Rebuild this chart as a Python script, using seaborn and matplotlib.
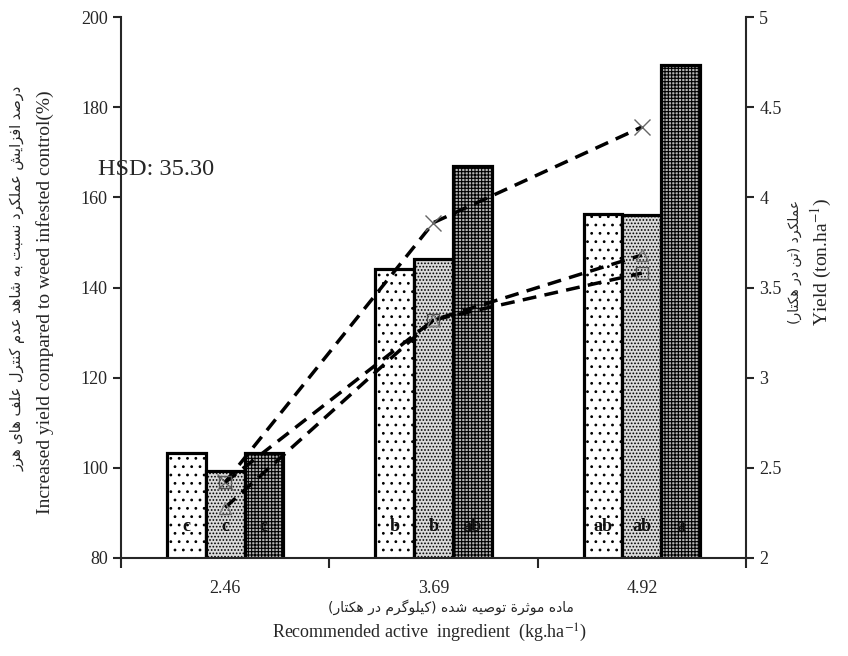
import numpy as np
import pandas as pd
import seaborn as sns
import matplotlib.pyplot as plt

# data
rates = ['2.46', '3.69', '4.92']
series = ['T1', 'T2', 'T3']
increase_t1 = [103.3, 144.2, 156.4]
increase_t2 = [99.3, 146.4, 156.0]
increase_t3 = [103.3, 166.9, 189.3]
letters_t1 = ['c', 'b', 'ab']
letters_t2 = ['c', 'b', 'ab']
letters_t3 = ['c', 'ab', 'a']
yield_x = [2.42, 3.86, 4.39]
yield_sq = [2.42, 3.32, 3.58]
yield_tri = [2.28, 3.32, 3.68]
hsd = 35.30

fa_left = 'درصد افزایش عملکرد نسبت به شاهد عدم کنترل علف های هرز'
fa_right = 'عملکرد (تن در هکتار)'
fa_x = 'ماده موثرة توصیه شده (کیلوگرم در هکتار)'

# presentation forms: 4 = dual joining (isol, fin, ini, med), 2 = right joining (isol, fin)
FORMS = {
    'ا': '\ufe8d\ufe8e', 'د': '\ufea9\ufeaa', 'ر': '\ufead\ufeae', 'ز': '\ufeaf\ufeb0',
    'و': '\ufeed\ufeee', 'ة': '\ufe93\ufe94',
    'ب': '\ufe8f\ufe90\ufe91\ufe92', 'ت': '\ufe95\ufe96\ufe97\ufe98',
    'ث': '\ufe99\ufe9a\ufe9b\ufe9c', 'س': '\ufeb1\ufeb2\ufeb3\ufeb4',
    'ش': '\ufeb5\ufeb6\ufeb7\ufeb8', 'ص': '\ufeb9\ufeba\ufebb\ufebc',
    'ع': '\ufec9\ufeca\ufecb\ufecc', 'ف': '\ufed1\ufed2\ufed3\ufed4',
    'ل': '\ufedd\ufede\ufedf\ufee0', 'م': '\ufee1\ufee2\ufee3\ufee4',
    'ن': '\ufee5\ufee6\ufee7\ufee8', 'ه': '\ufee9\ufeea\ufeeb\ufeec',
    'ی': '\ufbfc\ufbfd\ufbfe\ufbff', 'ک': '\ufb8e\ufb8f\ufb90\ufb91',
    'گ': '\ufb92\ufb93\ufb94\ufb95',
}


def shape(text):
    # crude persian shaping + right-to-left order, matplotlib does neither
    out = []
    for i, ch in enumerate(text):
        if ch not in FORMS:
            out.append(ch)
            continue
        f = FORMS[ch]
        prev = text[i - 1] if i > 0 else ''
        nxt = text[i + 1] if i + 1 < len(text) else ''
        jp = prev in FORMS and len(FORMS[prev]) == 4
        jn = len(f) == 4 and nxt in FORMS
        if jp and jn:
            out.append(f[3])
        elif jp:
            out.append(f[1])
        elif jn:
            out.append(f[2])
        else:
            out.append(f[0])
    return ''.join(out)[::-1].translate(str.maketrans('()', ')('))


sns.set_style('ticks')
plt.rcParams['font.family'] = ['Liberation Serif', 'DejaVu Sans']
plt.rcParams['mathtext.fontset'] = 'stix'
plt.rcParams['hatch.linewidth'] = 0.8

df = pd.DataFrame({
    'rate': rates * 3,
    'series': np.repeat(series, len(rates)),
    'increase': increase_t1 + increase_t2 + increase_t3,
})

fig = plt.figure(figsize=(8.48, 6.56), dpi=100)
ax = fig.add_axes([0.1427, 0.1494, 0.7370, 0.8246])

sns.barplot(data=df, x='rate', y='increase', hue='series', order=rates,
            palette=['white', '#dadada', '#b4b4b4'], saturation=1,
            width=0.557, gap=0, edgecolor='black', linewidth=2.3,
            legend=False, ax=ax)

hatches = ['..', '.....', '+++++']
for cont, hatch, labs in zip(ax.containers, hatches, [letters_t1, letters_t2, letters_t3]):
    for patch, lab in zip(cont, labs):
        patch.set_hatch(hatch)
        ax.text(patch.get_x() + patch.get_width() / 2, 87, lab, ha='center', va='center',
                fontsize=13, fontweight='bold', color='#111111')

ax.set_ylim(80, 200)
ax.set_yticks(np.arange(80, 201, 20))
ax.set_xlim(-0.5, 2.5)
ax.set_xticks(range(len(rates)))
ax.set_xticklabels(rates)
ax.set_xticks(np.arange(-0.5, len(rates), 1), minor=True)
ax.tick_params(axis='x', which='major', length=0, pad=16, labelsize=13)
ax.tick_params(axis='x', which='minor', length=7, width=1.5, direction='out')
ax.tick_params(axis='y', length=6, width=1.5, labelsize=13)
ax.set_xlabel('')
ax.set_ylabel('')
for s in ['left', 'bottom']:
    ax.spines[s].set_linewidth(1.5)
ax.spines['top'].set_visible(False)
ax.spines['right'].set_visible(False)

ax2 = ax.twinx()
xpos = np.arange(len(rates))
sns.lineplot(x=xpos, y=yield_x, marker='x', markersize=11, markeredgecolor='#666666',
             markeredgewidth=1.0, color='black', lw=2.5, ls='--', ax=ax2)
sns.lineplot(x=xpos, y=yield_sq, marker='s', markersize=8, markerfacecolor='none',
             markeredgecolor='#555555', markeredgewidth=1.0, color='black', lw=2.5, ls='--', ax=ax2)
sns.lineplot(x=xpos, y=yield_tri, marker='^', markersize=9, markerfacecolor='none',
             markeredgecolor='#777777', markeredgewidth=1.0, color='black', lw=2.5, ls='--', ax=ax2)
for line in ax2.lines:
    line.set_dashes((4, 2.4))

ax2.set_xlim(-0.5, 2.5)
ax2.set_ylim(2, 5)
ax2.set_yticks(np.arange(2, 5.01, 0.5))
ax2.set_yticklabels([f'{v:g}' for v in np.arange(2, 5.01, 0.5)])
ax2.tick_params(axis='y', length=6, width=1.5, labelsize=13)
ax2.set_ylabel('')
ax2.spines['right'].set_linewidth(1.5)
ax2.spines['top'].set_visible(False)
ax2.spines['left'].set_visible(False)
ax2.spines['bottom'].set_visible(False)

# axis titles, english and persian lines
fig.text(0.0212, 0.575, shape(fa_left), rotation=90, fontsize=10.5, family='DejaVu Sans',
         ha='center', va='center')
fig.text(0.053, 0.54, 'Increased yield compared to weed infested control(%)', rotation=90,
         fontsize=14, ha='center', va='center')
fig.text(0.9375, 0.6, shape(fa_right), rotation=90, fontsize=10, family='DejaVu Sans',
         ha='center', va='center')
fig.text(0.969, 0.6, 'Yield (ton.ha$^{-1}$)', rotation=90, fontsize=14,
         ha='center', va='center')
fig.text(0.532, 0.075, shape(fa_x), fontsize=10, family='DejaVu Sans', ha='center', va='center')
fig.text(0.507, 0.035, 'Recommended active  ingredient  (kg.ha$^{-1}$)', fontsize=13,
         ha='center', va='center')
fig.text(0.1156, 0.741, f'HSD: {hsd:.2f}', fontsize=17.5, ha='left', va='center')

fig.savefig('out.png', dpi=100)
